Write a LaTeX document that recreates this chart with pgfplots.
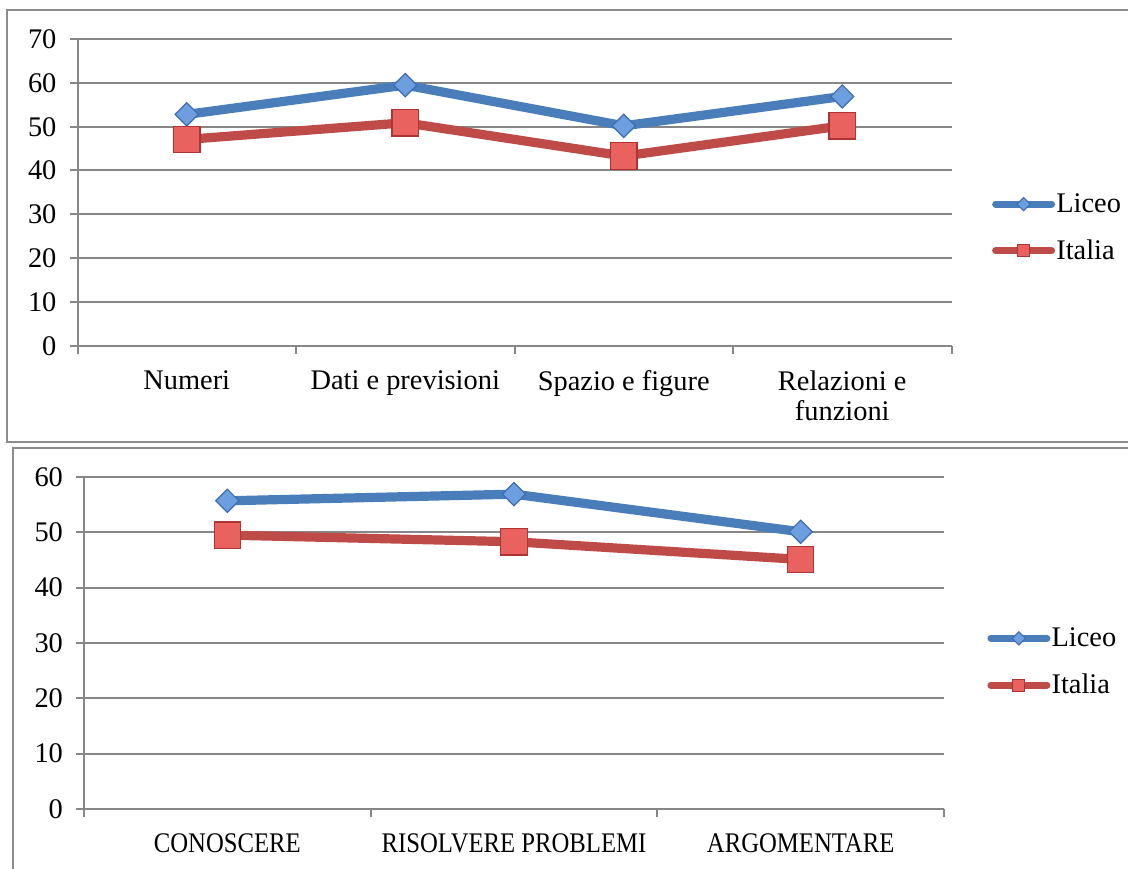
\documentclass[border=0pt]{standalone}
\usepackage{pgfplots}
\pgfplotsset{compat=1.18}
\usepackage{fontspec}
\setmainfont{Liberation Serif}
\definecolor{liceo}{RGB}{74,126,187}
\definecolor{liceofill}{RGB}{108,158,224}
\definecolor{liceoedge}{RGB}{62,108,172}
\definecolor{italia}{RGB}{190,75,72}
\definecolor{italiafill}{RGB}{234,98,95}
\definecolor{italiaedge}{RGB}{172,52,50}
\definecolor{gridc}{RGB}{134,134,134}
\definecolor{framec}{RGB}{140,140,140}
\newcommand{\chartfont}{\fontsize{14.2}{15}\selectfont}
\newcommand{\nar}[1]{\scalebox{0.87}[1]{#1}}
\pgfplotsset{
  mystyle/.style={
    scale only axis, anchor=south west,
    axis x line*=bottom, axis y line*=left,
    axis line style={gridc, line width=1pt},
    ymajorgrids, grid style={gridc, line width=1pt},
    tick align=outside, major tick length=4pt,
    tick style={gridc, line width=1pt},
    xticklabels={},
    extra x tick style={major tick length=0pt, grid=none},
    ticklabel style={font=\chartfont},
    xticklabel style={align=center, yshift=-9pt},
    yticklabel style={xshift=-3pt},
    /pgf/number format/assume math mode=true,
    clip=false,
    legend style={draw=none, fill=none, font=\chartfont, anchor=west,
      inner sep=0pt, row sep=11pt, nodes={inner sep=0.6pt}},
    legend cell align=left,
  },
  liceostyle/.style={liceo, line width=4.6pt, mark=square*, mark size=4.1pt,
    mark options={rotate=45, fill=liceofill, draw=liceoedge, line width=0.6pt},
    legend image code/.code={
      \draw[liceo, line width=3.5pt, line cap=round] (0pt,0pt) -- (28pt,0pt);
      \draw[fill=liceofill, draw=liceoedge, line width=0.5pt] (14pt,3.3pt) -- (17.3pt,0pt) -- (14pt,-3.3pt) -- (10.7pt,0pt) -- cycle;
    }},
  italiastyle/.style={italia, line width=4.6pt, mark=square*, mark size=6.6pt,
    mark options={fill=italiafill, draw=italiaedge, line width=0.6pt},
    legend image code/.code={
      \draw[italia, line width=3.5pt, line cap=round] (0pt,0pt) -- (28pt,0pt);
      \draw[fill=italiafill, draw=italiaedge, line width=0.5pt] (11pt,-3pt) rectangle (17pt,3pt);
    }},
}
\begin{document}
\begin{tikzpicture}[x=1pt,y=1pt]
\useasboundingbox (0,0) rectangle (564,434);
\clip (0,0) rectangle (564,434);
\draw[framec, line width=1pt] (3.5,213) rectangle (575,429);
\draw[framec, line width=1pt] (6.5,-10) rectangle (575,210);
\begin{axis}[mystyle,
  at={(38.75pt,261.15pt)}, width=437pt, height=153.3pt,
  xmin=-0.5, xmax=3.5, ymin=0, ymax=70,
  ytick={0,10,...,70},
  xtick={-0.5,0.5,1.5,2.5,3.5},
  extra x ticks={0,1,2,3},
  extra x tick labels={Numeri,Dati e previsioni,Spazio e figure,{Relazioni e\\funzioni}},
  legend style={at={(1.046,0.385)}},
]
\addplot[liceostyle] coordinates {(0,52.8) (1,59.5) (2,50.2) (3,56.9)};
\addlegendentry{Liceo}
\addplot[italiastyle] coordinates {(0,47.1) (1,50.9) (2,43.3) (3,50.2)};
\addlegendentry{Italia}
\end{axis}
\begin{axis}[mystyle,
  at={(42pt,29.5pt)}, width=430pt, height=166pt,
  xmin=-0.5, xmax=2.5, ymin=0, ymax=60,
  ytick={0,10,...,60},
  xtick={-0.5,0.5,1.5,2.5},
  extra x ticks={0,1,2},
  extra x tick labels={\nar{CONOSCERE},\nar{RISOLVERE PROBLEMI},\nar{ARGOMENTARE}},
  legend style={at={(1.05,0.443)}},
]
\addplot[liceostyle] coordinates {(0,55.7) (1,56.9) (2,50.1)};
\addlegendentry{Liceo}
\addplot[italiastyle] coordinates {(0,49.5) (1,48.3) (2,45.1)};
\addlegendentry{Italia}
\end{axis}
\end{tikzpicture}
\end{document}
